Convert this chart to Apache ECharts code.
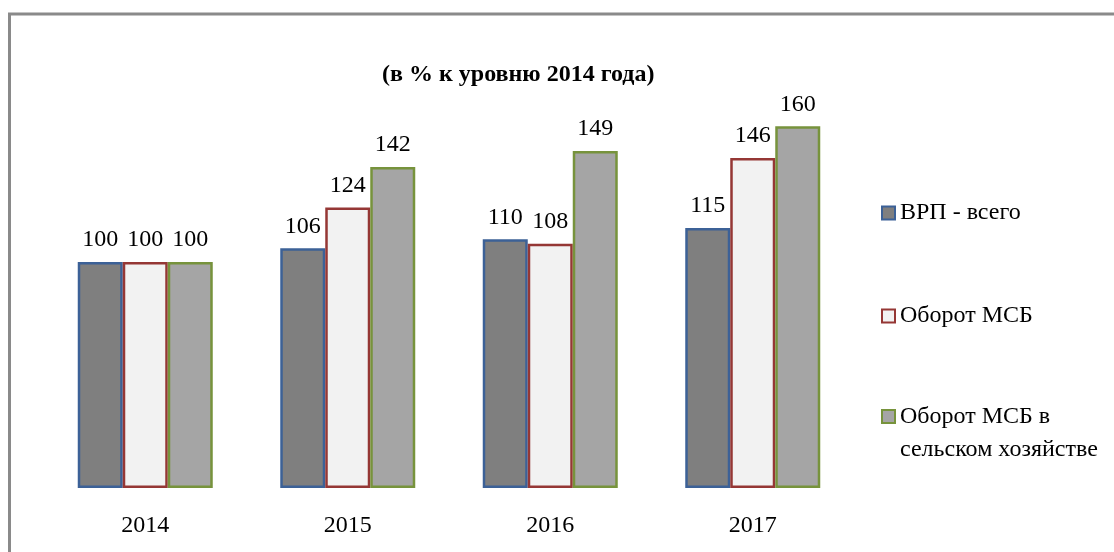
<!DOCTYPE html>
<html>
<head>
<meta charset="utf-8">
<script src="https://cdn.jsdelivr.net/npm/echarts@6/dist/echarts.min.js"></script>
<style>
html,body{margin:0;padding:0;background:#fff;}
#chart{width:1114px;height:552px;}
</style>
</head>
<body>
<div id="chart"></div>
<script>
const categories = ['2014', '2015', '2016', '2017'];
const seriesNames = ['ВРП - всего', 'Оборот МСБ', 'Оборот МСБ в сельском хозяйстве'];
const vrpTotal = [100, 106, 110, 115];
const msbTurnover = [100, 124, 108, 146];
const msbAgriTurnover = [100, 142, 149, 160];
const titleText = '(в % к уровню 2014 года)';

const FONT = '"Liberation Serif", "Times New Roman", serif';
const fills = ['#7f7f7f', '#f2f2f2', '#a5a5a5'];
const borders = ['#3c6197', '#953735', '#77933c'];
const values = [vrpTotal, msbTurnover, msbAgriTurnover];

const legendText = {fontFamily: FONT, fontSize: 24, lineHeight: 28, color: '#000'};

const chart = echarts.init(document.getElementById('chart'), null, {renderer: 'canvas'});
chart.setOption({
  backgroundColor: '#ffffff',
  animation: false,
  graphic: [{
    type: 'rect',
    shape: {x: 9.5, y: 14, width: 2000, height: 2000},
    style: {fill: 'none', stroke: '#8a8a8a', lineWidth: 3},
    silent: true
  }],
  title: {
    text: titleText,
    left: 377,
    top: 58,
    textStyle: {fontFamily: FONT, fontSize: 24, fontWeight: 'bold', color: '#000'}
  },
  legend: [{
    orient: 'vertical',
    left: 876,
    top: 194,
    itemGap: 75,
    itemWidth: 13,
    itemHeight: 13,
    icon: 'rect',
    data: [seriesNames[0], seriesNames[1]],
    textStyle: legendText
  }, {
    orient: 'vertical',
    left: 876,
    top: 362,
    itemWidth: 13,
    itemHeight: 13,
    icon: 'rect',
    data: [seriesNames[2]],
    formatter: function () {
      return '\nОборот МСБ в\nсельском хозяйстве';
    },
    textStyle: {fontFamily: FONT, fontSize: 24, lineHeight: 33, color: '#000'}
  }],
  grid: {left: 44, width: 810, top: 81, bottom: 64, containLabel: false},
  xAxis: {
    type: 'category',
    data: categories,
    axisLine: {show: false},
    axisTick: {show: false},
    axisLabel: {fontFamily: FONT, fontSize: 24, color: '#000', margin: 26}
  },
  yAxis: {
    type: 'value',
    min: 0,
    max: 180,
    show: false,
    splitLine: {show: false}
  },
  series: seriesNames.map(function (name, i) {
    return {
      name: name,
      type: 'bar',
      data: values[i],
      barWidth: 45,
      barGap: '0%',
      itemStyle: {color: fills[i], borderColor: borders[i], borderWidth: 2.5},
      label: {
        show: true,
        position: 'top',
        distance: 10,
        fontFamily: FONT,
        fontSize: 24,
        color: '#000'
      }
    };
  })
});
</script>
</body>
</html>
